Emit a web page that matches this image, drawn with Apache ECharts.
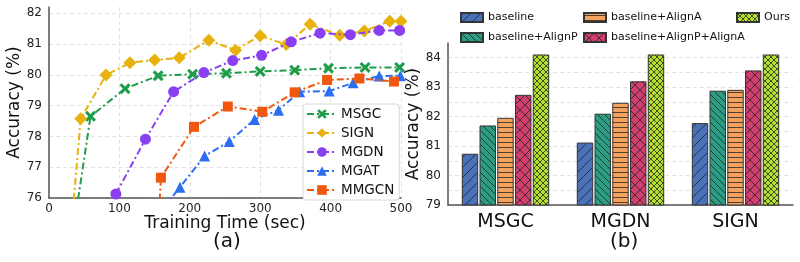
<!DOCTYPE html>
<html>
<head>
<meta charset="utf-8">
<script src="https://cdn.jsdelivr.net/npm/echarts@6/dist/echarts.min.js"></script>
<style>
  html, body { margin: 0; padding: 0; background: #fff; }
  #chart { width: 800px; height: 262px; }
</style>
</head>
<body>
<div id="chart"></div>
<script>
// (a) accuracy vs training time, [sec, acc]
const lineNames = ["MSGC", "SIGN", "MGDN", "MGAT", "MMGCN"];
const msgc = [[35, 75], [59, 78.65], [108, 79.55], [155, 79.97], [204, 80.02], [252, 80.05], [300, 80.11], [349, 80.15], [397, 80.21], [449, 80.24], [498, 80.24]];
const sign = [[28, 74], [45, 78.57], [81, 79.99], [115, 80.39], [150, 80.48], [185, 80.55], [227, 81.12], [265, 80.8], [300, 81.27], [337, 80.98], [371, 81.64], [413, 81.28], [448, 81.42], [484, 81.74], [500, 81.74]];
const mgdn = [[95, 76.13], [137, 77.91], [177, 79.45], [220, 80.07], [261, 80.46], [302, 80.63], [344, 81.07], [385, 81.35], [428, 81.3], [469, 81.44], [498, 81.44]];
const mgat = [[150, 75.3], [186, 76.35], [221, 77.36], [256, 77.83], [292, 78.55], [326, 78.85], [356, 79.45], [398, 79.47], [432, 79.74], [469, 79.96], [499, 79.97]];
const mmgcn = [[150, 73], [159, 76.66], [206, 78.31], [254, 78.97], [303, 78.8], [349, 79.43], [395, 79.83], [441, 79.88], [490, 79.78]];

// (b) ablation bars
const models = ["MSGC", "MGDN", "SIGN"];
const barNames = ["baseline", "baseline+AlignP", "baseline+AlignA", "baseline+AlignP+AlignA", "Ours"];
const baseline = [80.74, 81.12, 81.78];
const alignP = [81.70, 82.10, 82.88];
const alignA = [81.96, 82.47, 82.91];
const alignPA = [82.74, 83.20, 83.57];
const ours = [84.11, 84.11, 84.11];

const font = "DejaVu Sans";

// hatch fill made on a small canvas
function hatch(bg, kind, step) {
  const c = document.createElement("canvas");
  c.width = step; c.height = step;
  const g = c.getContext("2d");
  g.fillStyle = bg;
  g.fillRect(0, 0, step, step);
  g.strokeStyle = "rgba(30,30,30,0.85)";
  g.lineWidth = 0.9;
  g.beginPath();
  if (kind.includes("/")) { g.moveTo(-1, step + 1); g.lineTo(step + 1, -1); g.moveTo(-1, 1); g.lineTo(1, -1); g.moveTo(step - 1, step + 1); g.lineTo(step + 1, step - 1); }
  if (kind.includes("\\")) { g.moveTo(-1, -1); g.lineTo(step + 1, step + 1); g.moveTo(step - 1, -1); g.lineTo(step + 1, 1); g.moveTo(-1, step - 1); g.lineTo(1, step + 1); }
  if (kind.includes("-")) { g.moveTo(0, step / 2); g.lineTo(step, step / 2); }
  g.stroke();
  return { image: c, repeat: "repeat" };
}

const barFills = [
  hatch("#4a72b8", "/", 10),
  hatch("#2a9d82", "\\", 7),
  hatch("#f5a25e", "-", 5),
  hatch("#d13f6e", "/\\", 10),
  hatch("#b3e02e", "/\\", 6)
];

const lineColors = ["#1e9e4a", "#e8b10e", "#8a3ff0", "#2b6ff0", "#f0580f"];
const xMark = "path://M2,0 L5,3 L8,0 L10,2 L7,5 L10,8 L8,10 L5,7 L2,10 L0,8 L3,5 L0,2 Z";
const lineSymbols = [xMark, "diamond", "circle", "triangle", "rect"];
const lineSizes = [11, 13, 11, 11, 10];
const lineData = [msgc, sign, mgdn, mgat, mmgcn];

const chart = echarts.init(document.getElementById("chart"));

const dashed = { show: true, lineStyle: { color: "#e2e2e2", type: [4, 3], width: 1 } };
const axisLineStyle = { show: true, lineStyle: { color: "#555", width: 1.5 } };
const smallLegend = { orient: "vertical", top: 7, itemWidth: 22, itemHeight: 9, itemGap: 9, icon: "rect",
  textStyle: { fontSize: 11, color: "#111" } };

chart.setOption({
  animation: false,
  textStyle: { fontFamily: font },
  title: [
    { text: "(a)", left: 208, top: 227, textStyle: { fontSize: 20, fontWeight: "normal", color: "#111" } },
    { text: "(b)", left: 605, top: 227, textStyle: { fontSize: 20, fontWeight: "normal", color: "#111" } }
  ],
  legend: [
    {
      data: lineNames, orient: "vertical", left: 303, top: 104,
      itemWidth: 30, itemHeight: 12, itemGap: 5, padding: [3, 5, 3, 3],
      borderColor: "#d8d8d8", borderWidth: 1, borderRadius: 3, backgroundColor: "#fff",
      textStyle: { fontSize: 13.5, color: "#111", padding: [0, 0, 0, -1] }
    },
    Object.assign({ data: ["baseline", "baseline+AlignP"], left: 455 }, smallLegend),
    Object.assign({ data: ["baseline+AlignA", "baseline+AlignP+AlignA"], left: 578 }, smallLegend),
    Object.assign({ data: ["Ours"], left: 731 }, smallLegend)
  ],
  grid: [
    { left: 49, top: 7, width: 352, height: 191 },
    { left: 448, top: 43, width: 345, height: 162 }
  ],
  xAxis: [
    {
      gridIndex: 0, type: "value", min: 0, max: 500, interval: 100,
      name: "Training Time (sec)", nameLocation: "middle", nameGap: 17, nameMoveOverlap: false,
      nameTextStyle: { fontSize: 17, color: "#111" },
      axisLine: axisLineStyle, axisTick: { show: false },
      axisLabel: { fontSize: 12, color: "#222", margin: 5 },
      splitLine: dashed
    },
    {
      gridIndex: 1, type: "category", data: models,
      axisLine: axisLineStyle, axisTick: { show: false },
      axisLabel: { fontSize: 19, color: "#111", margin: 8 },
      splitLine: { show: false }
    }
  ],
  yAxis: [
    {
      gridIndex: 0, type: "value", min: 76, max: 82.2, interval: 1,
      name: "Accuracy (%)", nameLocation: "middle", nameGap: 26,
      nameTextStyle: { fontSize: 17, color: "#111" },
      axisLine: axisLineStyle, axisTick: { show: false },
      axisLabel: { fontSize: 12, color: "#222", margin: 7, formatter: v => Number.isInteger(v) ? v : "" },
      splitLine: Object.assign({ showMaxLine: false }, dashed)
    },
    {
      gridIndex: 1, type: "value", min: 79, max: 84.5, interval: 0.5,
      name: "Accuracy (%)", nameLocation: "middle", nameGap: 23,
      nameTextStyle: { fontSize: 17, color: "#111" },
      axisLine: axisLineStyle, axisTick: { show: false },
      axisLabel: { fontSize: 12, color: "#222", margin: 7, formatter: v => Number.isInteger(v) ? v : "" },
      splitLine: Object.assign({ showMaxLine: false }, dashed)
    }
  ],
  series: lineNames.map((n, i) => ({
    name: n, type: "line", xAxisIndex: 0, yAxisIndex: 0,
    data: lineData[i], clip: true,
    symbol: lineSymbols[i], symbolSize: lineSizes[i], showAllSymbol: true,
    itemStyle: { color: lineColors[i] },
    lineStyle: { color: lineColors[i], width: 2, type: [7, 3, 2, 3] },
    z: 3 + i
  })).concat([baseline, alignP, alignA, alignPA, ours].map((d, i) => ({
    name: barNames[i], type: "bar", xAxisIndex: 1, yAxisIndex: 1,
    data: d, barGap: "8%", barCategoryGap: "24%",
    itemStyle: { color: barFills[i], borderColor: "#333", borderWidth: 1 }
  })))
});
</script>
</body>
</html>
